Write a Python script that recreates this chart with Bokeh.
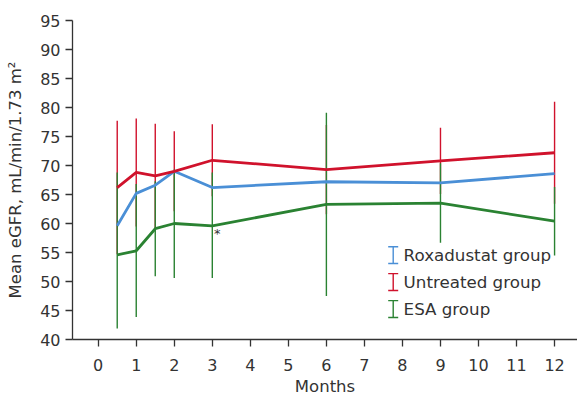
from bokeh.plotting import figure
from bokeh.models import Range1d, FixedTicker, Whisker, TeeHead, Label, ColumnDataSource
from bokeh.embed import file_html
from bokeh.resources import INLINE

# ---- data ----
months = [0.5, 1, 1.5, 2, 3, 6, 9, 12]
roxadustat_mean = [59.6, 65.2, 66.6, 69.0, 66.2, 67.2, 67.0, 68.6]
untreated_mean = [66.2, 68.8, 68.2, 69.0, 70.9, 69.3, 70.8, 72.2]
esa_mean = [54.6, 55.3, 59.1, 60.0, 59.6, 63.3, 63.5, 60.4]
untreated_upper = [77.7, 78.1, 77.2, 75.9, 77.1, 77.0, 76.5, 81.0]
untreated_lower = [54.7, 59.5, 59.2, 62.1, 64.7, 61.6, 65.1, 63.4]
esa_upper = [68.8, 66.8, 67.3, 69.3, 68.8, 79.1, 70.4, 66.3]
esa_lower = [41.9, 43.9, 50.9, 50.6, 50.6, 47.5, 56.7, 54.5]
x_ticks = list(range(0, 13))
y_ticks = list(range(40, 100, 5))
series_names = ["Roxadustat group", "Untreated group", "ESA group"]

BLUE = "#4a8fd6"
RED = "#d0122c"
GREEN = "#2a8232"
AXIS = "#333333"
FONT = "DejaVu Sans"

p = figure(width=577, height=399, output_backend="svg", toolbar_location=None,
           x_range=Range1d(-0.676, 12.603), y_range=Range1d(40, 95))
p.min_border_left = 72
p.min_border_right = 0
p.min_border_top = 20
p.min_border_bottom = 60
p.outline_line_color = None
p.grid.visible = False
p.background_fill_color = "white"
p.border_fill_color = "white"

for ax in (p.xaxis[0], p.yaxis[0]):
    ax.axis_line_color = AXIS
    ax.axis_line_width = 1.3
    ax.major_tick_line_color = AXIS
    ax.major_tick_line_width = 1.3
    ax.major_tick_in = 0
    ax.major_tick_out = 7
    ax.minor_tick_line_color = None
    ax.major_label_text_font = FONT
    ax.major_label_text_font_size = "16px"
    ax.major_label_text_color = AXIS
    ax.axis_label_text_font = FONT
    ax.axis_label_text_font_size = "16.5px"
    ax.axis_label_text_font_style = "normal"
    ax.axis_label_text_color = AXIS

p.xaxis.ticker = FixedTicker(ticks=x_ticks)
p.yaxis.ticker = FixedTicker(ticks=y_ticks)
p.xaxis.major_label_standoff = 12
p.yaxis.major_label_standoff = 5
p.xaxis.axis_label = "Months"
p.xaxis.axis_label_standoff = 3
p.yaxis.axis_label = "Mean eGFR, mL/min/1.73 m\u00b2"
p.yaxis.axis_label_standoff = 12

src = ColumnDataSource(dict(x=months, rm=roxadustat_mean, um=untreated_mean, em=esa_mean,
                            uu=untreated_upper, ul=untreated_lower,
                            eu=esa_upper, el=esa_lower))

# error bars (untreated first, ESA drawn over it)
p.segment(x0="x", y0="ul", x1="x", y1="uu", source=src, line_color=RED, line_width=1.4)
p.segment(x0="x", y0="el", x1="x", y1="eu", source=src, line_color=GREEN, line_width=1.4)

# mean lines
p.line("x", "rm", source=src, line_color=BLUE, line_width=2.8)
p.line("x", "um", source=src, line_color=RED, line_width=2.8)
p.line("x", "em", source=src, line_color=GREEN, line_width=2.8)

# significance marker
p.add_layout(Label(x=3.13, y=57.0, text="*", text_align="center", text_font=FONT,
                   text_font_size="13px", text_color=AXIS))

# manual legend with error-bar icons
legend_colors = [BLUE, RED, GREEN]
legend_center = [54.55, 49.9, 45.25]
for name, col, c in zip(series_names, legend_colors, legend_center):
    p.add_layout(Whisker(base=7.757, lower=c - 1.45, upper=c + 1.45, dimension="height",
                         line_color=col, line_width=1.4,
                         upper_head=TeeHead(size=10, line_color=col, line_width=1.4),
                         lower_head=TeeHead(size=10, line_color=col, line_width=1.4)))
    p.add_layout(Label(x=8.03, y=c, text=name, text_baseline="middle", text_font=FONT,
                       text_font_size="16.7px", text_color=AXIS))

open("out.html", "w").write(file_html(p, INLINE))
